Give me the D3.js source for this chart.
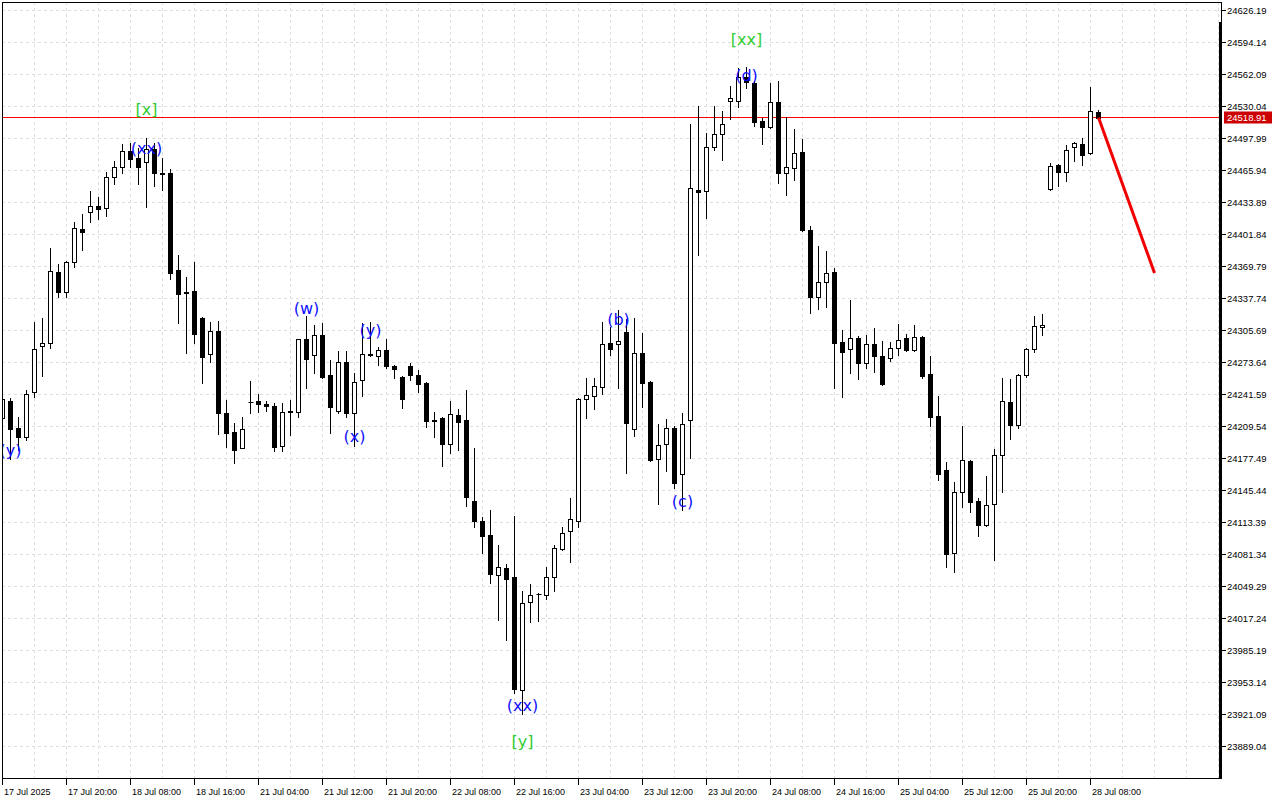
<!DOCTYPE html>
<html><head><meta charset="utf-8">
<script src="https://cdn.jsdelivr.net/npm/d3@7"></script>
<style>html,body{margin:0;padding:0;background:#fff;} svg{display:block;}</style>
</head><body><svg id="chart" width="1280" height="800"></svg>
<script>
// ---------------- DATA ----------------
const timeLabels = ["17 Jul 2025","17 Jul 20:00","18 Jul 08:00","18 Jul 16:00","21 Jul 04:00","21 Jul 12:00","21 Jul 20:00","22 Jul 08:00","22 Jul 16:00","23 Jul 04:00","23 Jul 12:00","23 Jul 20:00","24 Jul 08:00","24 Jul 16:00","25 Jul 04:00","25 Jul 12:00","25 Jul 20:00","28 Jul 08:00"];
const timeLabelStep = 8; // bars between time labels

const yTicks = [24626.19,24594.14,24562.09,24530.04,24497.99,24465.94,24433.89,24401.84,24369.79,24337.74,24305.69,24273.64,24241.59,24209.54,24177.49,24145.44,24113.39,24081.34,24049.29,24017.24,23985.19,23953.14,23921.09,23889.04];

const open = [24218.0,24235.1,24208.0,24199.0,24244.1,24290.2,24293.2,24364.3,24344.2,24374.3,
24407.3,24424.4,24430.4,24428.4,24459.4,24469.4,24485.5,24478.5,24474.4,24487.5,
24463.4,24463.4,24366.3,24344.2,24345.2,24318.2,24282.1,24305.2,24223.1,24204.0,
24188.0,24234.1,24235.1,24232.1,24230.1,24190.0,24224.1,24224.1,24297.2,24281.1,
24301.2,24261.1,24225.1,24274.1,24223.1,24256.1,24282.1,24280.1,24286.2,24270.1,
24259.1,24270.1,24261.1,24253.1,24216.0,24218.0,24192.0,24221.1,24216.0,24134.9,
24114.9,24100.9,24060.8,24067.8,24058.8,23945.6,24033.8,24041.8,24040.8,24058.8,
24086.8,24104.9,24114.9,24237.1,24240.1,24249.1,24293.2,24292.2,24304.2,24207.0,
24283.1,24254.1,24177.0,24192.0,24208.0,24162.0,24216.0,24446.4,24445.4,24489.5,
24502.5,24535.5,24535.5,24559.6,24553.6,24515.5,24509.5,24534.5,24463.4,24468.4,
24484.5,24406.3,24339.2,24354.3,24364.3,24294.2,24287.2,24298.2,24273.1,24292.2,
24280.1,24278.1,24288.2,24298.2,24286.2,24299.2,24262.1,24220.0,24166.0,24082.8,
24143.9,24175.0,24134.9,24110.9,24131.9,24181.0,24234.1,24211.0,24261.1,24287.2,
24309.2,24447.4,24471.4,24464.4,24489.5,24492.5,24483.5,24524.5];

const high = [24240.1,24238.1,24219.0,24246.1,24314.2,24318.2,24388.3,24372.3,24375.3,24414.4,
24422.4,24445.4,24439.4,24464.4,24475.4,24492.5,24493.5,24488.5,24498.5,24493.5,
24478.5,24467.4,24381.3,24359.3,24374.3,24319.2,24314.2,24315.2,24236.1,24213.0,
24219.0,24255.1,24242.1,24235.1,24233.1,24233.1,24236.1,24297.2,24320.2,24311.2,
24313.2,24276.1,24285.2,24285.2,24263.1,24313.2,24314.2,24289.2,24297.2,24271.1,
24260.1,24273.1,24266.1,24254.1,24224.1,24219.0,24235.1,24227.1,24246.1,24188.0,
24118.9,24125.9,24090.8,24071.8,24119.9,24044.8,24051.8,24042.8,24068.8,24090.8,
24108.9,24137.9,24238.1,24258.1,24258.1,24314.2,24309.2,24326.2,24317.2,24318.2,
24303.2,24255.1,24212.0,24217.0,24210.0,24223.1,24512.5,24530.5,24503.5,24530.5,
24525.5,24550.6,24568.6,24569.6,24555.6,24518.5,24553.6,24555.6,24519.5,24507.5,
24497.5,24410.3,24390.3,24385.3,24368.3,24306.2,24336.2,24300.2,24301.2,24308.2,
24295.2,24294.2,24312.2,24302.2,24311.2,24300.2,24280.1,24240.1,24174.0,24153.9,
24210.0,24176.0,24137.9,24160.0,24187.0,24258.1,24257.1,24262.1,24288.2,24320.2,
24322.2,24473.4,24472.4,24491.5,24494.5,24498.5,24549.6,24526.5];

const low = [24212.0,24177.0,24186.0,24196.0,24239.1,24260.1,24288.2,24339.2,24339.2,24369.3,
24386.3,24414.4,24417.4,24420.4,24452.4,24463.4,24469.4,24452.4,24429.4,24450.4,
24446.4,24357.3,24313.2,24283.1,24293.2,24253.1,24274.1,24202.0,24189.0,24173.0,
24188.0,24223.1,24224.1,24225.1,24185.0,24185.0,24201.0,24219.0,24248.1,24263.1,
24258.1,24203.0,24223.1,24219.0,24190.0,24240.1,24280.1,24271.1,24268.1,24258.1,
24228.1,24256.1,24244.1,24209.0,24199.0,24170.0,24183.0,24186.0,24129.9,24108.9,
24082.8,24052.8,24015.7,23995.7,23942.6,23921.6,24013.7,24014.7,24036.8,24044.8,
24085.8,24073.8,24108.9,24218.0,24227.1,24242.1,24281.1,24248.1,24163.0,24200.0,
24229.1,24175.0,24131.9,24165.0,24147.9,24125.9,24178.0,24381.3,24418.4,24486.5,
24476.4,24517.5,24529.5,24548.6,24510.5,24492.5,24508.5,24453.4,24441.4,24456.4,
24405.3,24323.2,24327.2,24329.2,24248.1,24239.1,24263.1,24257.1,24268.1,24264.1,
24251.1,24275.1,24281.1,24285.2,24285.2,24258.1,24210.0,24155.9,24068.8,24063.8,
24128.9,24123.9,24099.9,24109.9,24075.8,24143.9,24197.0,24208.0,24259.1,24284.1,
24301.2,24446.4,24450.4,24455.4,24475.4,24471.4,24482.5,24518.5];

const close = [24237.1,24207.0,24199.0,24242.1,24287.2,24293.2,24365.3,24344.2,24374.3,24408.3,
24404.3,24430.4,24427.4,24459.4,24469.4,24485.5,24477.5,24469.4,24487.5,24463.4,
24462.9,24363.3,24342.2,24343.7,24302.2,24279.1,24305.2,24223.1,24203.0,24186.0,
24207.0,24233.6,24232.1,24230.1,24189.0,24224.1,24224.6,24297.2,24277.1,24301.2,
24259.1,24229.1,24274.1,24223.1,24254.1,24282.1,24281.6,24286.2,24270.1,24267.1,
24237.1,24261.1,24252.1,24215.0,24215.5,24192.0,24222.1,24214.0,24138.9,24114.9,
24099.9,24061.8,24068.8,24056.8,23946.6,24032.8,24040.8,24041.3,24058.8,24087.8,
24102.9,24116.9,24237.1,24241.1,24250.1,24292.2,24287.2,24295.2,24213.0,24283.1,
24253.1,24176.0,24191.0,24208.0,24152.9,24212.0,24448.4,24444.4,24489.5,24502.5,
24512.5,24538.5,24559.6,24554.6,24514.5,24509.5,24534.5,24463.4,24469.4,24483.5,
24406.3,24339.2,24354.3,24363.3,24293.2,24284.1,24298.2,24273.1,24292.2,24280.1,
24252.1,24288.2,24296.2,24286.2,24299.2,24260.1,24219.0,24162.0,24081.8,24143.9,
24176.0,24133.9,24110.9,24130.9,24181.0,24235.1,24211.0,24261.1,24287.2,24310.2,
24311.2,24470.4,24464.4,24486.5,24493.5,24481.5,24525.5,24518.91];

const currentPrice = 24518.91;
const projectionIndex = [137, 144];
const projectionPrice = [24518.91, 24363.3];

// wave annotations
const waveText  = ["(y)","[x]","(xx)","(w)","(x)","(y)","(xx)","[y]","(b)","(c)","(d)","[xx]"];
const waveIndex = [1,18,18,38,44,46,65,65,77,85,93,93];
const wavePrice = [24185.0,24526.5,24487.5,24327.2,24199.0,24305.2,23929.6,23893.6,24316.2,24133.9,24560.6,24596.6];
const waveLevel = ["minor","major","minor","minor","minor","minor","minor","major","minor","minor","minor","major"];

// ---------------- LAYOUT ----------------
const L = 2, T = 2, R = 1222, B = 779;
const svg = d3.select("#chart");
const nSlots = (R - 2.5) / 8;
const x = d3.scaleLinear().domain([0, nSlots]).range([2.5, R]);
const y = d3.scaleLinear().domain([yTicks[0], yTicks[yTicks.length-1]]).range([10.5, 746.5]);
const snap = v => Math.round(v) + 0.5;

svg.append("rect").attr("width",1280).attr("height",800).attr("fill","#fff");
svg.append("defs").append("clipPath").attr("id","plot")
  .append("rect").attr("x",L).attr("y",T).attr("width",R-L).attr("height",B-T);
const plot = svg.append("g").attr("clip-path","url(#plot)");

// grid
const gridIdx = d3.range(0, Math.floor(nSlots)+1, 4);
plot.append("g").selectAll("line").data(gridIdx).join("line")
  .attr("x1", d => snap(x(d)-0.5)).attr("x2", d => snap(x(d)-0.5))
  .attr("y1", T).attr("y2", B)
  .attr("stroke","#dedede").attr("stroke-dasharray","3,3");
plot.append("g").selectAll("line").data(yTicks).join("line")
  .attr("y1", d => snap(y(d)-0.5)).attr("y2", d => snap(y(d)-0.5))
  .attr("x1", L).attr("x2", R)
  .attr("stroke","#dedede").attr("stroke-dasharray","3,3");

// current price line
plot.append("line").attr("x1",L).attr("x2",R)
  .attr("y1", snap(y(currentPrice)-0.5)).attr("y2", snap(y(currentPrice)-0.5))
  .attr("stroke","#ff0000").attr("stroke-width",1.2);

// candles
const idx = d3.range(open.length);
const cg = plot.append("g");
cg.selectAll("line.wick").data(idx).join("line").attr("class","wick")
  .attr("x1", i => snap(x(i)-0.5)).attr("x2", i => snap(x(i)-0.5))
  .attr("y1", i => Math.round(y(high[i]))).attr("y2", i => Math.round(y(low[i]))+1)
  .attr("stroke","#000").attr("stroke-width",1);
idx.forEach(i => {
  const cx = snap(x(i)-0.5);
  const top = snap(y(Math.max(open[i],close[i])));
  const bot = snap(y(Math.min(open[i],close[i])));
  if (bot - top < 1) {
    cg.append("line").attr("x1",cx-2).attr("x2",cx+3).attr("y1",top).attr("y2",top)
      .attr("stroke","#000").attr("stroke-width",1);
  } else {
    cg.append("rect").attr("x",cx-2).attr("y",top).attr("width",4).attr("height",bot-top)
      .attr("fill", close[i] >= open[i] ? "#fff" : "#000")
      .attr("stroke","#000").attr("stroke-width",1);
  }
});

// projection line
plot.append("line")
  .attr("x1", x(projectionIndex[0])).attr("y1", y(projectionPrice[0]))
  .attr("x2", x(projectionIndex[1])).attr("y2", y(projectionPrice[1]))
  .attr("stroke","#f00000").attr("stroke-width",3);

// wave labels
plot.append("g").selectAll("text").data(waveText).join("text")
  .attr("x", (d,i) => x(waveIndex[i]))
  .attr("y", (d,i) => y(wavePrice[i]))
  .attr("dy","0.32em")
  .attr("text-anchor","middle")
  .attr("font-family","DejaVu Sans, sans-serif")
  .attr("font-size",16)
  .attr("fill",(d,i) => waveLevel[i] === "major" ? "#32cd32" : "#1010ff")
  .text(d => d);

// frame
svg.append("rect").attr("x",L+0.5).attr("y",T+0.5).attr("width",R-L-1).attr("height",B-T-1)
  .attr("fill","none").attr("stroke","#000");
svg.append("rect").attr("x",R-3).attr("y",22).attr("width",3).attr("height",B-22).attr("fill","#000");

// right axis
const ya = svg.append("g");
ya.selectAll("line").data(yTicks).join("line")
  .attr("x1",R).attr("x2",R+4)
  .attr("y1", d => snap(y(d)-0.5)).attr("y2", d => snap(y(d)-0.5))
  .attr("stroke","#000");
ya.selectAll("text").data(yTicks).join("text")
  .attr("x",R+5).attr("y", d => y(d)+3.5)
  .attr("font-family","Liberation Sans, Arial, sans-serif").attr("font-size",9.5)
  .attr("fill","#000")
  .text(d => d.toFixed(2));

// current price tag
svg.append("rect").attr("x",R+2).attr("y",snap(y(currentPrice))-7).attr("width",48).attr("height",12)
  .attr("fill","#cc0000");
svg.append("text").attr("x",R+5).attr("y",y(currentPrice)+3.5)
  .attr("font-family","Liberation Sans, Arial, sans-serif").attr("font-size",9.5)
  .attr("fill","#fff").text(currentPrice.toFixed(2));

// bottom axis
const xa = svg.append("g");
xa.selectAll("line").data(timeLabels).join("line")
  .attr("x1",(d,i) => snap(x(i*timeLabelStep)-0.5)).attr("x2",(d,i) => snap(x(i*timeLabelStep)-0.5))
  .attr("y1",B).attr("y2",B+6).attr("stroke","#000");
xa.selectAll("text").data(timeLabels).join("text")
  .attr("x",(d,i) => x(i*timeLabelStep)+1.5).attr("y",B+16)
  .attr("font-family","Liberation Sans, Arial, sans-serif").attr("font-size",9)
  .attr("fill","#000").text(d => d);
</script>
</body></html>
